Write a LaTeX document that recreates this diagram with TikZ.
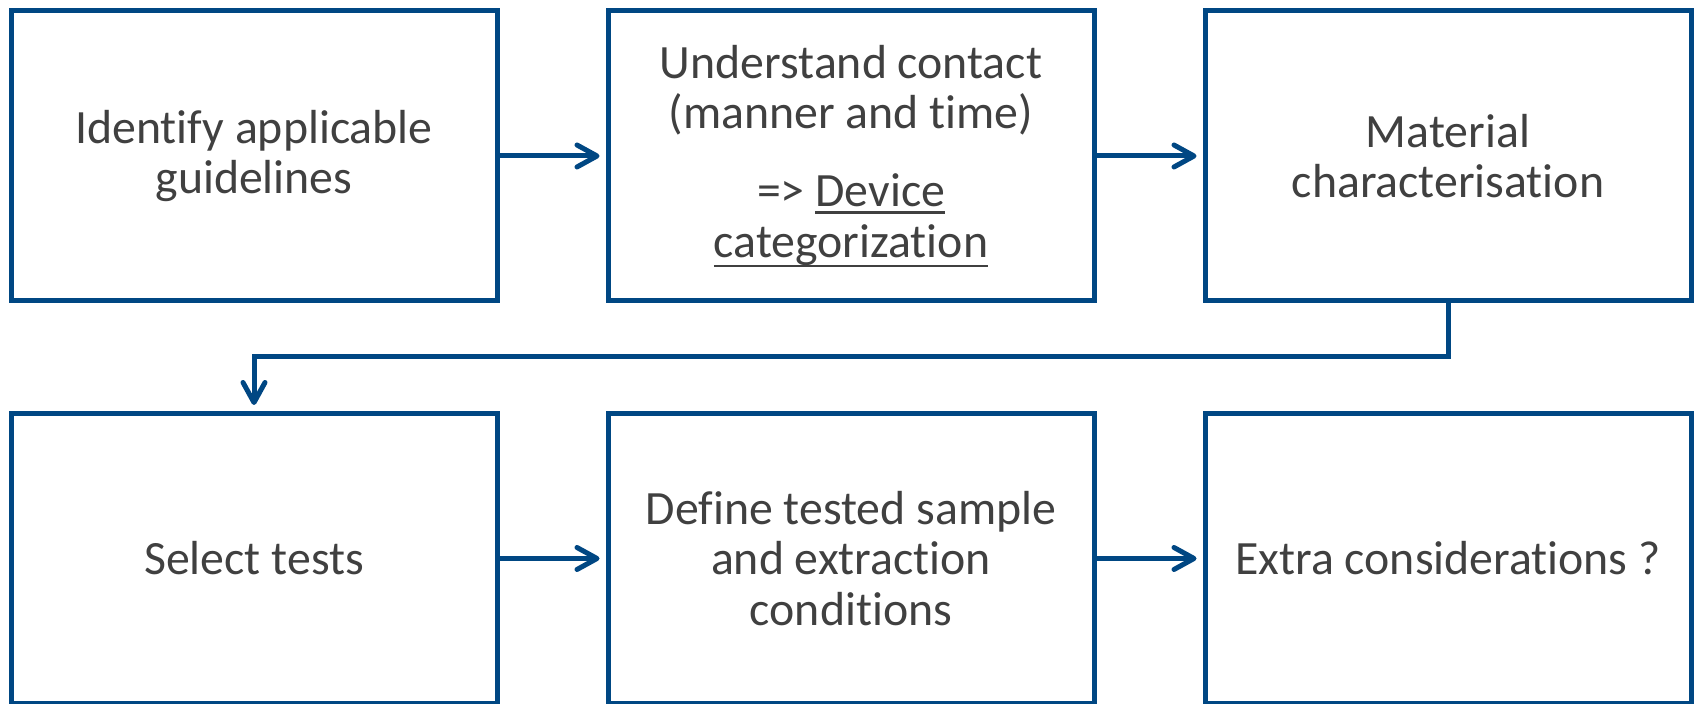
\documentclass[tikz,border=0pt]{standalone}
\usepackage{fontspec}
\setmainfont[Ligatures={NoCommon}]{Carlito}
\usetikzlibrary{arrows.meta}
\definecolor{boxblue}{RGB}{0,71,131}
\definecolor{txtgray}{RGB}{64,64,64}
\newcommand\myul[2]{\begingroup\setbox0\hbox{#2}\rlap{\rule[-#1]{\wd0}{1.2pt}}\box0\endgroup}
\tikzset{
  stepbox/.style={draw=boxblue, line width=2.5pt, rectangle, minimum width=243pt, minimum height=145pt, inner sep=0pt, align=center, text=txtgray, font=\fontsize{23.9pt}{25.2pt}\selectfont},
  flow/.style={draw=boxblue, line width=2.5pt, -{Straight Barb[length=10pt,width=11pt,round]}, shorten >=3pt}
}
\begin{document}
\begin{tikzpicture}[x=0.5pt,y=-0.5pt]
\useasboundingbox (0,0) rectangle (1698,704);
\node[stepbox] (b1) at (254,156) {Identify applicable\\guidelines};
\node[stepbox] (b2) at (851,156) {Understand contact\\(manner and time)\\[14pt]=> \myul{3.5pt}{Device}\\\myul{4.9pt}{categorization}};
\node[stepbox] (b3) at (1448,156) {Material\\characterisation};
\node[stepbox] (b4) at (254,558.5) {Select tests};
\node[stepbox] (b5) at (851,558.5) {Define tested sample\\and extraction\\conditions};
\node[stepbox] (b6) at (1448,558.5) {Extra considerations ?};
\draw[flow] (b1) -- (b2);
\draw[flow] (b2) -- (b3);
\draw[flow] (b4) -- (b5);
\draw[flow] (b5) -- (b6);
\draw[flow] (b3.south) |- (254,357) -- (b4.north);
\end{tikzpicture}
\end{document}
